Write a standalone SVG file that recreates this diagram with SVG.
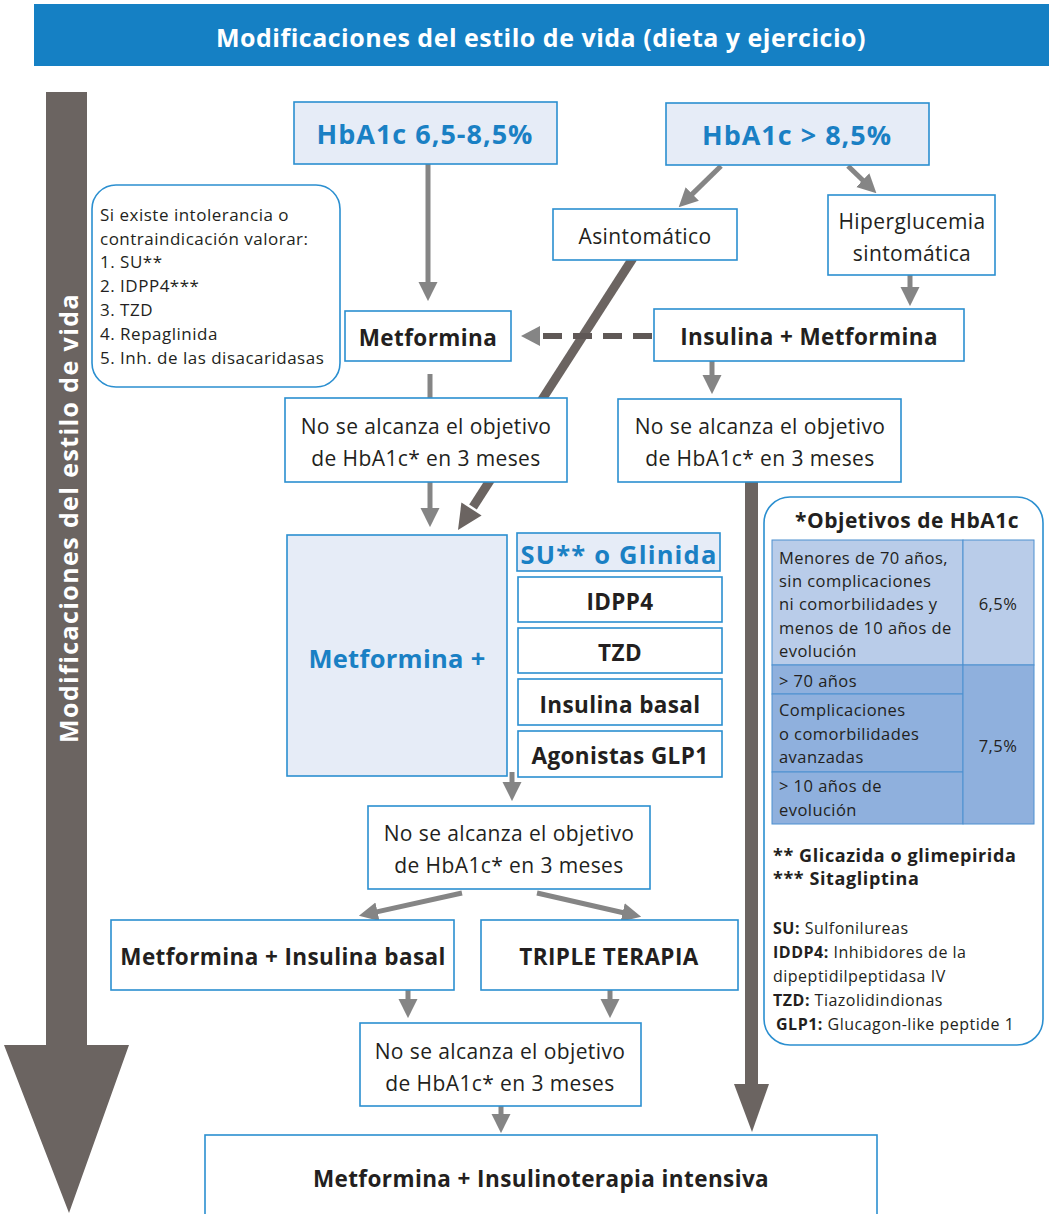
<svg xmlns="http://www.w3.org/2000/svg" width="1049" height="1214" viewBox="0 0 1049 1214">
<style>
text{font-family:"Open Sans","Noto Sans","DejaVu Sans",sans-serif;fill:#231f20}
.box{fill:#fff;stroke:#2b8fd0;stroke-width:1.6}
.lbox{fill:#e6ecf7;stroke:#2b8fd0;stroke-width:1.6}
.reg{font-size:21px;letter-spacing:0.4px}
.b{font-weight:bold;font-size:22.5px;letter-spacing:0.4px}
.blue{fill:#1a80c4;font-weight:bold}
.c{text-anchor:middle}
.g{stroke:#858585;stroke-width:5;fill:none}
.gh{fill:#858585}
.dk{fill:#6b6461}
.note{font-size:17px;letter-spacing:0.5px}
.sm{font-size:16.5px;letter-spacing:0.45px}
.xs{font-size:16px;letter-spacing:0.5px}
.fn{font-weight:bold;font-size:18px;letter-spacing:0.6px}
</style>
<defs>
<marker id="ah" viewBox="0 0 20 20" refX="2" refY="10" markerWidth="19" markerHeight="21" orient="auto" markerUnits="userSpaceOnUse">
<path d="M0,0 L20,10 L0,20 z" fill="#858585"/>
</marker>
</defs>

<g id="header">
<rect x="34" y="4" width="1015" height="62" fill="#1580c4"/>
<text x="541" y="47" class="c" style="fill:#fff;font-weight:bold;font-size:25px;letter-spacing:0.5px">Modificaciones del estilo de vida (dieta y ejercicio)</text>
</g>

<g id="lifestyle-arrow">
<polygon class="dk" points="46,92 87,92 87,1045 129,1045 69,1213 4,1045 46,1045"/>
<text transform="translate(78,518) rotate(-90)" class="c" style="fill:#fff;font-weight:bold;font-size:25px;letter-spacing:1.4px">Modificaciones del estilo de vida</text>
</g>

<g id="connectors">
<line x1="633" y1="258" x2="473" y2="507" stroke="#6b6461" stroke-width="9"/>
<polygon class="dk" points="458,530 481.6,515.5 461.4,502.5"/>
<line x1="751.5" y1="482" x2="751.5" y2="1086" stroke="#6b6461" stroke-width="13"/>
<polygon class="dk" points="734,1084 769,1084 752,1132"/>
<line class="g" x1="428" y1="164" x2="428" y2="284" marker-end="url(#ah)"/>
<line class="g" x1="430" y1="374" x2="430" y2="398"/>
<line class="g" x1="430" y1="482" x2="430" y2="510" marker-end="url(#ah)"/>
<line class="g" x1="910" y1="275" x2="910" y2="289" marker-end="url(#ah)"/>
<line class="g" x1="712" y1="361" x2="712" y2="377" marker-end="url(#ah)"/>
<line class="g" x1="512" y1="772" x2="512" y2="784" marker-end="url(#ah)"/>
<line class="g" x1="462" y1="893" x2="375.6" y2="912.1" marker-end="url(#ah)"/>
<line class="g" x1="537" y1="893" x2="624.5" y2="913" marker-end="url(#ah)"/>
<line class="g" x1="408" y1="990" x2="408" y2="1001" marker-end="url(#ah)"/>
<line class="g" x1="610" y1="990" x2="610" y2="1001" marker-end="url(#ah)"/>
<line class="g" x1="501" y1="1106" x2="501" y2="1116" marker-end="url(#ah)"/>
<line class="g" x1="721" y1="166" x2="690.9" y2="195.4" marker-end="url(#ah)"/>
<line class="g" x1="848" y1="166" x2="864.1" y2="181.5" marker-end="url(#ah)"/>
<line x1="652" y1="336" x2="540" y2="336" stroke="#5f5856" stroke-width="6" stroke-dasharray="19 11"/>
<polygon class="gh" points="521,336 540,326 540,346"/>
</g>

<g id="n-hba1c-low">
<rect class="lbox" x="294" y="102" width="263" height="62"/>
<text x="425" y="144" class="c blue" style="font-size:27px;letter-spacing:1px">HbA1c 6,5-8,5%</text>
</g>
<g id="n-hba1c-high">
<rect class="lbox" x="666" y="103" width="263" height="62"/>
<text x="797" y="145" class="c blue" style="font-size:27px;letter-spacing:1px">HbA1c &gt; 8,5%</text>
</g>
<g id="n-note">
<rect x="92" y="185" width="248" height="202" rx="24" fill="#fff" stroke="#2b8fd0" stroke-width="1.6"/>
<text class="note" x="100" y="221">Si existe intolerancia o</text>
<text class="note" x="100" y="245">contraindicación valorar:</text>
<text class="note" x="100" y="268">1. SU**</text>
<text class="note" x="100" y="292">2. IDPP4***</text>
<text class="note" x="100" y="316">3. TZD</text>
<text class="note" x="100" y="340">4. Repaglinida</text>
<text class="note" x="100" y="364">5. Inh. de las disacaridasas</text>
</g>
<g id="n-asint">
<rect class="box" x="553" y="209" width="184" height="51"/>
<text x="645" y="244" class="c reg">Asintomático</text>
</g>
<g id="n-hiper">
<rect class="box" x="828" y="195" width="167" height="80"/>
<text x="912" y="229" class="c reg">Hiperglucemia</text>
<text x="912" y="261" class="c reg">sintomática</text>
</g>
<g id="n-metformina">
<rect class="box" x="345" y="311" width="166" height="50"/>
<text x="428" y="346" class="c b">Metformina</text>
</g>
<g id="n-ins-met">
<rect class="box" x="654" y="309" width="310" height="52"/>
<text x="809" y="345" class="c b">Insulina + Metformina</text>
</g>
<g id="n-nsa1">
<rect class="box" x="285" y="398" width="282" height="84"/>
<text x="426" y="434" class="c reg">No se alcanza el objetivo</text>
<text x="426" y="466" class="c reg">de HbA1c* en 3 meses</text>
</g>
<g id="n-nsa2">
<rect class="box" x="618" y="399" width="283" height="83"/>
<text x="760" y="434" class="c reg">No se alcanza el objetivo</text>
<text x="760" y="466" class="c reg">de HbA1c* en 3 meses</text>
</g>
<g id="n-metplus">
<rect class="lbox" x="287" y="535" width="220" height="241"/>
<text x="397" y="668" class="c blue" style="font-size:25.5px;letter-spacing:0.3px">Metformina +</text>
</g>
<g id="n-su">
<rect class="lbox" x="517" y="533" width="203" height="38"/>
<text x="619" y="564" class="c blue" style="font-size:25.5px;letter-spacing:1.2px">SU** o Glinida</text>
</g>
<g id="n-idpp4">
<rect class="box" x="518" y="577" width="204" height="45"/>
<text x="620" y="610" class="c b">IDPP4</text>
</g>
<g id="n-tzd">
<rect class="box" x="518" y="628" width="204" height="45"/>
<text x="620" y="661" class="c b">TZD</text>
</g>
<g id="n-insbasal">
<rect class="box" x="518" y="679" width="204" height="46"/>
<text x="620" y="713" class="c b">Insulina basal</text>
</g>
<g id="n-glp1">
<rect class="box" x="518" y="731" width="204" height="46"/>
<text x="620" y="764" class="c b">Agonistas GLP1</text>
</g>
<g id="n-nsa3">
<rect class="box" x="368" y="806" width="282" height="83"/>
<text x="509" y="841" class="c reg">No se alcanza el objetivo</text>
<text x="509" y="873" class="c reg">de HbA1c* en 3 meses</text>
</g>
<g id="n-met-insbasal">
<rect class="box" x="111" y="920" width="343" height="70"/>
<text x="283" y="965" class="c b">Metformina + Insulina basal</text>
</g>
<g id="n-triple">
<rect class="box" x="481" y="920" width="257" height="70"/>
<text x="609" y="965" class="c b">TRIPLE TERAPIA</text>
</g>
<g id="n-nsa4">
<rect class="box" x="360" y="1023" width="281" height="83"/>
<text x="500" y="1059" class="c reg">No se alcanza el objetivo</text>
<text x="500" y="1091" class="c reg">de HbA1c* en 3 meses</text>
</g>
<g id="n-final">
<rect class="box" x="205" y="1135" width="672" height="90"/>
<text x="541" y="1187" class="c b">Metformina + Insulinoterapia intensiva</text>
</g>

<g id="legend">
<rect x="764" y="497" width="279" height="548" rx="26" fill="#fff" stroke="#2b8fd0" stroke-width="1.6"/>
<text x="907" y="528" class="c" style="font-weight:bold;font-size:21px;letter-spacing:0.5px">*Objetivos de HbA1c</text>
<rect x="772" y="540" width="191" height="125" fill="#b9cce9" stroke="#4d90d0" stroke-width="1"/>
<rect x="963" y="540" width="71" height="125" fill="#b9cce9" stroke="#4d90d0" stroke-width="1"/>
<rect x="772" y="665" width="191" height="29" fill="#8fb0dd" stroke="#4d90d0" stroke-width="1"/>
<rect x="772" y="694" width="191" height="78" fill="#8fb0dd" stroke="#4d90d0" stroke-width="1"/>
<rect x="772" y="772" width="191" height="52" fill="#8fb0dd" stroke="#4d90d0" stroke-width="1"/>
<rect x="963" y="665" width="71" height="159" fill="#8fb0dd" stroke="#4d90d0" stroke-width="1"/>
<text class="sm" x="779" y="564">Menores de 70 años,</text>
<text class="sm" x="779" y="587">sin complicaciones</text>
<text class="sm" x="779" y="610">ni comorbilidades y</text>
<text class="sm" x="779" y="634">menos de 10 años de</text>
<text class="sm" x="779" y="657">evolución</text>
<text class="sm c" x="998" y="610">6,5%</text>
<text class="sm" x="779" y="687">&gt; 70 años</text>
<text class="sm" x="779" y="716">Complicaciones</text>
<text class="sm" x="779" y="740">o comorbilidades</text>
<text class="sm" x="779" y="763">avanzadas</text>
<text class="sm" x="779" y="792">&gt; 10 años de</text>
<text class="sm" x="779" y="816">evolución</text>
<text class="sm c" x="998" y="752">7,5%</text>
<text class="fn" x="773" y="862">** Glicazida o glimepirida</text>
<text class="fn" x="773" y="885">*** Sitagliptina</text>
<text class="xs" x="773" y="934"><tspan font-weight="bold">SU:</tspan> Sulfonilureas</text>
<text class="xs" x="773" y="958"><tspan font-weight="bold">IDDP4:</tspan> Inhibidores de la</text>
<text class="xs" x="773" y="982">dipeptidilpeptidasa IV</text>
<text class="xs" x="773" y="1006"><tspan font-weight="bold">TZD:</tspan> Tiazolidindionas</text>
<text class="xs" x="776" y="1030"><tspan font-weight="bold">GLP1:</tspan> Glucagon-like peptide 1</text>
</g>
</svg>
